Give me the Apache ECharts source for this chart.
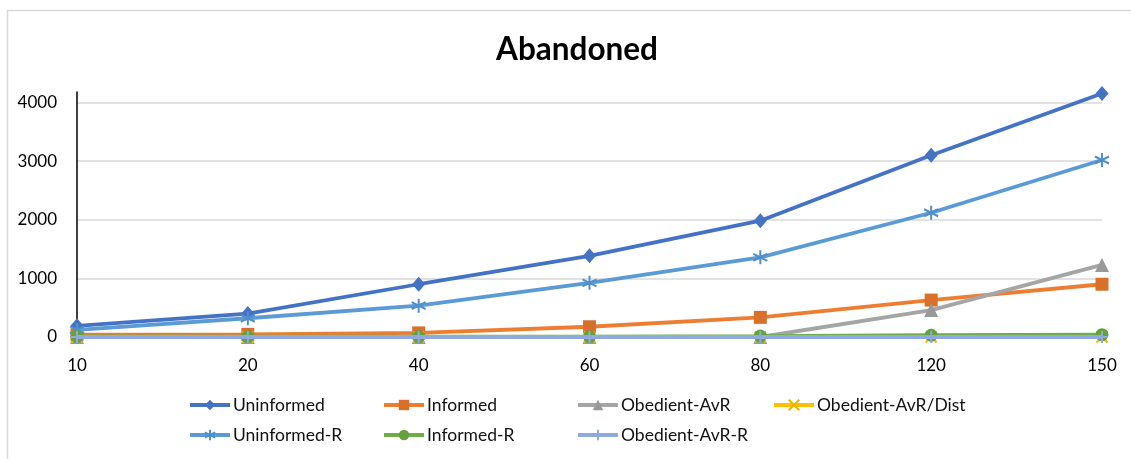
<!DOCTYPE html>
<html>
<head>
<meta charset="utf-8">
<script src="https://cdn.jsdelivr.net/npm/echarts@6/dist/echarts.min.js"></script>
<style>
html,body{margin:0;padding:0;background:#fff;}
#chart{width:1131px;height:459px;}
</style>
</head>
<body>
<div id="chart"></div>
<script>
var categories = ['10', '20', '40', '60', '80', '120', '150'];
var uninformed = [190, 400, 900, 1385, 1985, 3100, 4155];
var informed = [40, 45, 70, 175, 335, 630, 900];
var obedientAvR = [0, 0, 0, 0, 0, 460, 1230];
var obedientAvRDist = [0, 0, 0, 0, 0, 0, 0];
var uninformedR = [120, 320, 535, 925, 1360, 2120, 3020];
var informedR = [10, 5, 5, 5, 15, 30, 40];
var obedientAvRR = [0, 0, 0, 0, 0, 0, 0];
var yTicks = [0, 1000, 2000, 3000, 4000];

var FONT = 'Lato';
var chart = echarts.init(document.getElementById('chart'));

var X_PATH = 'path://M0,0L10,10M10,0L0,10';
var AST_PATH = 'path://M5,0L5,10M0.7,2.5L9.3,7.5M0.7,7.5L9.3,2.5';
var PLUS_PATH = 'path://M5,0L5,10M0,5L10,5';

var defs = [
  {name: 'Uninformed', data: uninformed, color: '#4472C4', mcolor: '#4472C4', symbol: 'diamond', size: [13, 15], stroke: false},
  {name: 'Informed', data: informed, color: '#ED7D31', mcolor: '#D8702C', symbol: 'rect', size: 13, stroke: false},
  {name: 'Obedient-AvR', data: obedientAvR, color: '#A5A5A5', mcolor: '#999999', symbol: 'triangle', size: 14, stroke: false},
  {name: 'Obedient-AvR/Dist', data: obedientAvRDist, color: '#FFC000', mcolor: '#F0B400', symbol: X_PATH, size: 11, stroke: true},
  {name: 'Uninformed-R', data: uninformedR, color: '#5B9BD5', mcolor: '#4F8FCB', symbol: AST_PATH, size: 14, stroke: true},
  {name: 'Informed-R', data: informedR, color: '#70AD47', mcolor: '#64A03E', symbol: 'circle', size: 13, stroke: false},
  {name: 'Obedient-AvR-R', data: obedientAvRR, color: '#8FAADC', mcolor: '#8FAADC', symbol: PLUS_PATH, size: 12, stroke: true}
];

var series = defs.map(function (d, i) {
  return {
    name: d.name,
    type: 'line',
    data: d.data,
    symbol: d.symbol,
    symbolSize: d.size,
    showAllSymbol: true,
    clip: false,
    z: 2 + i,
    lineStyle: {color: d.color, width: 3.8},
    itemStyle: d.stroke
      ? {color: d.mcolor, borderColor: d.mcolor, borderWidth: 2}
      : {color: d.mcolor, borderWidth: 0},
    emphasis: {disabled: true}
  };
});

var legendPos = [
  [188, 396], [382, 396], [576, 396], [772, 396],
  [188, 426], [382, 426], [576, 426]
];
var legends = defs.map(function (d, i) {
  return {
    data: [d.name],
    left: legendPos[i][0],
    top: legendPos[i][1],
    padding: 0,
    itemWidth: 40,
    itemHeight: 13,
    itemGap: 0,
    selectedMode: false,
    lineStyle: {width: 4},
    textStyle: {fontFamily: FONT, fontSize: 17.5, color: '#111', padding: [0, 0, 0, -2]}
  };
});

chart.setOption({
  animation: false,
  backgroundColor: '#fff',
  title: {
    text: 'Abandoned',
    left: 572,
    textAlign: 'center',
    top: 29,
    textStyle: {fontFamily: FONT, fontSize: 31.5, fontWeight: 'bold', color: '#000'}
  },
  graphic: [{
    type: 'rect',
    shape: {x: 7.5, y: 10.5, width: 1200, height: 500},
    style: {fill: 'none', stroke: '#d9d9d9', lineWidth: 1.5},
    silent: true,
    z: -1
  }],
  legend: legends,
  grid: {left: 77, right: 29, top: 92, bottom: 122, containLabel: false},
  xAxis: {
    type: 'category',
    data: categories,
    boundaryGap: false,
    axisLine: {show: true, lineStyle: {color: '#d9d9d9', width: 1}},
    axisTick: {show: false},
    axisLabel: {fontFamily: FONT, fontSize: 17, color: '#000', margin: 20}
  },
  yAxis: {
    type: 'value',
    min: yTicks[0],
    max: 4180,
    interval: 1000,
    axisLine: {show: true, lineStyle: {color: '#000', width: 1.5}},
    axisTick: {show: false},
    axisLabel: {
      fontFamily: FONT, fontSize: 17, color: '#000', margin: 20, showMaxLabel: false,
      formatter: function (v) { return String(v); }
    },
    splitLine: {show: true, showMaxLine: false, showMinLine: false, lineStyle: {color: '#d9d9d9', width: 1.5}}
  },
  series: series
});
</script>
</body>
</html>
